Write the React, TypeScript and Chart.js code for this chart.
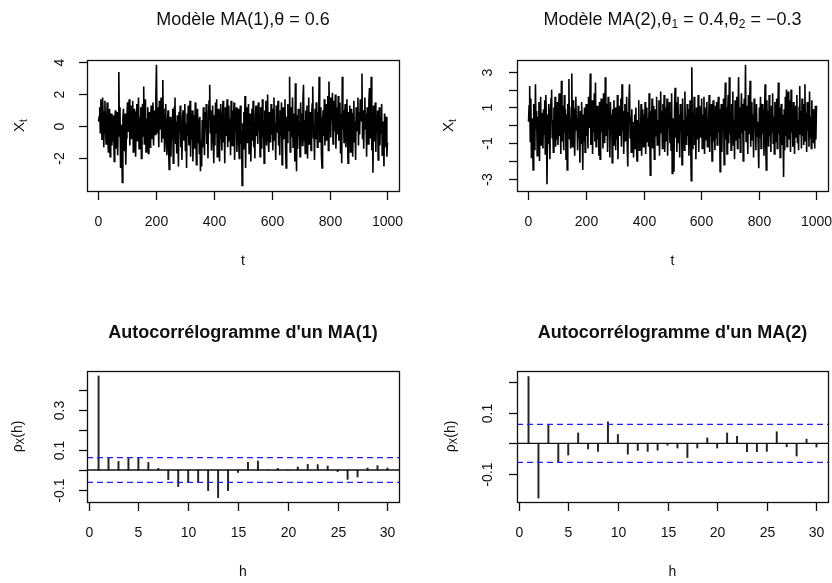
import React, { useEffect, useRef } from "react";
import { Chart, registerables } from "chart.js";

Chart.register(...registerables);

const W = 832;
const H = 583;
const FONT_FAMILY = '"Liberation Sans", Arial, Helvetica, sans-serif';

// ---- Simulated MA(1) series, theta = 0.6 (one value per 2 time steps) ----
const ma1Series = [
  0.3, 0.6, 1.2, -0.4, 1.7, 0.2, -0.8, 1.8, 0.5, -1.3, 0.9, 1.6, -0.2, -1.1, 0.4, 1.5, -0.7, -1.6, 0.2, 1.1, -1.9, -0.3, 0.8, -1.2, 0.6,
  -0.9, 0.7, -2.2, 0.3, 1.0, -1.4, -0.2, 0.9, -1.8, 0.4, 3.4, -0.6, 1.2, -2.6, 0.1, -1.0, -3.5, 0.5, 1.1, -1.5, -0.4, 0.8, -2.4, -0.7, 0.6,
  1.5, -0.3, 0.9, 1.7, -1.2, 0.4, 1.3, -0.8, 0.2, 1.6, -1.6, 0.7, 1.1, -0.5, -1.9, 0.9, 1.4, -0.9, 0.3, 1.8, -1.4, 0.6, -0.2, 1.2, -2.0,
  0.8, 1.4, -0.6, 2.5, -1.1, 0.3, 1.7, -1.6, 0.5, -0.9, 1.2, -1.7, -0.2, 0.9, -1.3, 0.6, 1.3, -0.8, 0.2, 1.5, -1.2, 0.4, 1.0, -0.5, 1.9,
  3.85, -0.4, 1.2, 0.6, -1.3, 1.6, -0.2, 0.9, 1.8, -1.0, 0.3, 2.9, -0.7, 1.1, -1.6, 0.5, 1.4, -0.9, -1.8, 0.2, 1.0, -1.4, -2.7, -0.3, 0.6,
  -1.9, 0.4, -0.8, 1.1, -2.3, -0.2, 1.2, 1.8, -1.1, 0.3, -1.7, 0.7, -0.5, -2.5, 0.9, -0.4, 1.3, -1.3, 0.2, -2.1, 0.6, 1.0, -0.9, -0.1, 1.4,
  -1.5, 0.2, -2.6, 0.8, -0.6, 1.3, -1.2, -0.3, 1.6, -1.9, 0.4, -0.8, 1.0, -2.2, -0.1, 0.7, -1.4, 1.5, -0.5, -2.4, 0.3, 1.1, -1.0, 0.5, -1.7,
  0.6, -2.8, -0.9, -2.5, 0.4, -1.3, 1.2, -0.6, -1.8, 0.9, -0.2, 1.4, -1.1, 0.3, -2.0, 0.8, 1.6, 2.6, -0.4, 1.0, -1.5, 0.2, 1.3, -0.7, -2.3,
  0.7, -1.2, 1.5, -0.4, 1.7, -1.9, 0.3, 1.1, -0.8, -2.2, 0.9, 1.4, -0.3, -1.5, 0.6, 1.6, -1.0, 0.2, -2.3, 1.2, 0.4, -0.6, 1.7, -1.3, 0.1,
  1.3, -0.9, 0.5, -1.8, 1.6, 0.2, -1.2, 1.0, -0.4, 1.5, -2.1, 0.7, -0.2, 1.2, -1.6, 0.4, 1.1, -0.8, -2.0, 0.6, 1.3, -1.1, -0.3, -3.7, 0.2,
  -1.4, 0.9, -0.5, 1.9, -2.6, 0.3, 1.2, -1.0, -0.2, 1.4, -1.7, 0.5, 0.8, -2.2, -0.4, 1.1, -0.9, 1.6, -1.3, 0.2, -2.0, 0.7, 1.3, -0.6, 0.4,
  -1.1, 1.5, -0.3, 0.8, -1.9, 1.2, 0.1, -1.4, 1.7, -0.7, 0.4, -2.3, 1.0, -0.2, 1.6, -1.2, 0.6, 2.0, -0.8, -1.6, 0.9, 0.3, -1.0, 1.4, -0.5,
  1.1, -1.5, 0.5, 1.8, -0.9, 0.2, -2.1, 1.3, -0.4, 0.9, 1.6, -1.2, 0.3, -1.8, 1.0, -0.6, 1.5, -2.4, 0.4, 1.2, -0.8, -0.1, 1.7, -1.3, -2.6,
  0.6, -1.0, 1.4, -0.3, 0.9, 3.1, -1.6, 0.2, 1.2, -0.7, 1.8, -1.3, -0.2, 0.8, -2.2, 2.7, -0.5, -2.8, 0.7, -1.4, 1.1, -0.6, 0.3, -1.9, 1.5,
  -0.4, 0.8, -1.2, 1.6, 2.6, -0.9, 0.4, -1.7, 1.0, -0.3, 1.3, -2.0, 0.5, 1.8, -1.1, -0.2, 0.9, -1.5, 0.6, 1.4, 2.5, -0.7, 0.1, -2.1, 1.1,
  -0.8, 1.5, 0.2, -1.3, 0.9, -0.4, 3.1, -1.0, 0.6, 1.2, -1.8, -2.6, 0.4, 1.0, -0.6, 1.7, -1.2, 0.3, 1.4, -0.9, 0.8, 1.9, -1.5, 2.8, 0.5,
  1.8, -0.7, 1.3, 0.4, 2.1, -1.1, 0.9, 1.6, -0.3, 2.0, -1.4, 0.7, 1.2, -0.5, 1.9, -0.9, 0.3, 1.5, -1.7, 0.8, -2.3, 3.1, -0.2, 1.0, -1.0,
  0.6, 1.4, -1.3, 0.2, 1.7, -0.8, -2.3, 0.9, -0.4, 1.3, -1.6, 0.5, 1.1, -0.6, -1.9, 0.8, 1.6, -1.0, 0.3, -2.1, 1.2, -0.3, 0.7, 1.8, -1.2,
  0.9, -0.5, 1.7, 0.3, 1.3, 3.3, -0.8, 1.0, -1.4, 0.6, 1.8, -0.2, 0.8, -1.9, 1.2, 0.4, -1.1, 1.6, 2.4, -0.7, 0.5, 3.1, -1.5, 0.9, -2.9,
  1.3, -0.9, 0.4, 1.5, -1.6, 0.7, -0.3, 1.0, -2.1, 0.2, 1.2, -1.2, 0.6, -0.4, 1.4, -1.8, 0.3, -0.7, -2.5, 0.8, 0.5, -1.3, 0.6, -1.9, -1.0,
];

// ---- Simulated MA(2) series, theta1 = 0.4, theta2 = -0.3 ----
const ma2Series = [
  0.2, 1.1, 2.2, -0.9, 1.5, -1.8, 0.4, -0.6, -2.5, 1.2, 0.3, -1.4, 2.3, -0.2, 0.8, -1.7, 0.5, -0.9, 1.3, -2.0, 0.1, 1.6, -1.1, 0.7, -0.4,
  -1.3, 0.9, -0.5, 1.4, -1.6, 1.7, 0.2, -3.3, 0.6, -1.0, 1.2, -0.3, -1.9, 0.8, 1.5, 2.0, -0.7, 0.3, -1.5, 1.0, -0.2, 1.6, -1.2, 0.4, -0.8,
  1.3, -1.1, 0.5, 1.8, -0.6, 0.2, -1.6, 2.5, -0.9, 1.1, 0.3, -1.4, 1.7, -0.4, 0.9, -1.9, 0.6, -2.5, 1.2, -0.2, 2.6, -0.8, 0.4, -1.3, 1.0,
  2.9, -1.2, 0.7, 1.4, -0.5, -1.7, 0.9, 1.6, -0.3, 0.4, -1.4, 1.1, -0.7, 0.3, -2.1, 0.8, -1.0, 1.3, -0.2, -2.5, 0.6, -0.9, 1.0, -1.5, 0.3,
  1.2, -0.6, 0.4, -1.3, 1.6, -0.1, 0.9, 2.9, -1.1, 0.2, 1.4, -1.6, 0.6, -0.4, 1.8, -0.9, 2.4, -1.2, 0.5, 1.1, -0.8, 0.3, -1.7, 1.3, -1.9,
  0.7, 1.5, -0.4, 0.9, -1.3, 1.8, 0.1, -1.0, 2.7, -0.6, 1.2, 0.4, -1.5, 1.6, -0.2, 0.8, -1.8, 1.3, -0.5, 0.6, -2.1, 0.9, -1.1, 1.4, -0.3,
  1.0, -1.4, 0.3, -0.8, 1.7, -1.9, 0.5, 1.1, -0.6, 0.2, 1.5, -1.2, 2.3, -0.3, 0.8, -1.6, 0.4, 1.2, -0.9, -0.1, 1.6, -1.0, -2.3, 0.7, 1.3,
  2.3, -0.7, 0.5, -1.5, 0.9, -1.1, 0.2, -1.8, -0.4, 0.6, -1.3, 1.0, -0.9, -2.0, 0.3, -0.6, 1.4, -1.4, 0.1, -0.8, 1.2, -1.7, 0.4, 0.9, -1.2,
  0.6, -0.5, 1.3, -1.6, 0.2, 1.0, -0.9, 0.4, -1.2, 1.8, -0.3, -2.8, 0.8, -0.7, 1.5, -1.3, 0.5, 1.1, -1.9, 0.2, 0.9, -0.6, 1.6, -1.1, 0.3,
  -0.8, 1.4, -1.7, 0.6, 1.9, -0.4, 0.8, -1.3, 1.2, -0.2, 1.7, -1.5, 0.3, 1.0, -0.9, 1.5, -1.7, 0.5, -0.1, 1.3, -1.0, 0.7, -1.4, 1.8, -2.7,
  0.4, -1.2, -2.6, 0.9, 2.1, -0.7, 1.3, -1.5, 0.2, 1.6, -1.0, 0.6, -1.8, 1.2, -0.3, 0.8, -2.2, 1.5, -0.5, 0.3, -1.4, 1.9, -0.8, 0.5, -1.1,
  1.2, -0.6, 0.9, -1.7, 0.3, 1.4, -0.9, -3.1, 3.25, -1.3, 0.7, -0.4, 1.6, -1.1, 0.2, -1.9, 1.0, 0.5, -0.8, 1.7, -1.5, 0.4, 1.1, -0.7, -0.2,
  1.5, -1.3, 0.6, -0.5, 1.6, -1.6, 0.3, 1.0, -0.8, 1.3, -1.2, 0.4, -0.2, 1.7, -1.5, 0.8, -0.6, 1.2, -2.0, 0.5, 1.4, -0.9, 0.2, -1.4, 1.1,
  -0.7, 1.3, -1.1, 0.6, 1.6, -0.4, 0.9, -2.6, 0.3, 1.2, -1.5, 0.7, -0.3, 1.5, -2.2, 0.4, 2.4, -0.8, 1.0, -1.6, 0.5, 1.7, -1.0, 2.7, -0.5,
  0.8, -1.4, 1.2, -0.6, 1.9, -1.1, 0.3, -1.9, 1.4, 0.5, -0.8, 1.6, -1.3, 0.2, 2.7, -0.7, 1.0, -1.5, 0.6, 1.8, -0.4, 1.2, -2.0, 0.9, 1.5,
  -0.3, 3.4, -0.9, 1.1, 0.4, -1.6, 1.7, -0.5, 0.9, 2.5, -1.2, 0.3, 1.3, -0.8, 0.6, -1.8, 1.5, -0.2, 0.8, -1.4, 1.2, -0.6, 0.2, -1.1, -2.4,
  1.0, -0.7, 1.6, -1.3, 0.4, 1.2, -0.5, 0.9, -1.7, 0.6, 2.3, -0.9, -2.5, 1.4, -0.2, 0.8, -1.2, 1.7, -0.6, 0.3, -1.5, 1.1, -0.4, 1.8, -1.0,
  0.5, -1.6, 1.3, 0.2, -0.9, 1.5, -1.3, 0.7, 2.4, -0.5, 1.0, -1.8, 0.4, 1.2, -1.1, 0.6, -0.3, -2.9, 0.9, -1.4, 1.6, -0.6, 2.0, -1.2, 0.8,
  1.9, -0.8, 0.5, 1.4, -1.5, 2.0, -0.4, 0.9, -1.2, 1.3, 0.2, -1.6, 1.1, -0.7, 0.6, 1.7, -1.0, 0.3, -1.4, 1.0, 2.2, -0.5, 0.8, -1.3, 1.5,
  -0.6, 1.2, -1.1, 0.4, 2.3, -0.9, 0.7, -1.5, 1.3, -0.3, 0.8, -1.2, 1.9, -0.7, 0.5, -1.3, 1.4, -0.4, 0.9, -1.0, 0.6, -1.3, 1.1, -0.8, 1.1,
];

// ---- Sample autocorrelations ----
const lags = [1, 2, 3, 4, 5, 6, 7, 8, 9, 10, 11, 12, 13, 14, 15, 16, 17, 18, 19, 20, 21, 22, 23, 24, 25, 26, 27, 28, 29, 30];
const acfMA1 = [
  0.47, 0.058, 0.043, 0.058, 0.058, 0.038, 0.008, -0.048, -0.083, -0.063,
  -0.063, -0.103, -0.138, -0.103, -0.012, 0.038, 0.045, 0.001, 0.008, -0.001,
  0.015, 0.028, 0.027, 0.02, -0.008, -0.047, -0.035, 0.01, 0.022, 0.01,
];
const acfMA2 = [
  0.218, -0.178, 0.059, -0.06, -0.038, 0.034, -0.018, -0.026, 0.07, 0.029,
  -0.035, -0.023, -0.026, -0.022, -0.006, -0.015, -0.046, -0.015, 0.018, -0.015,
  0.034, 0.023, -0.027, -0.027, -0.026, 0.038, -0.011, -0.041, 0.014, -0.012,
];
const ciBound = 0.062;

// ---- Axis ticks ----
const timeTicks = [0, 200, 400, 600, 800, 1000];
const timeTickLabels = ["0", "200", "400", "600", "800", "1000"];
const lagTicks = [0, 5, 10, 15, 20, 25, 30];
const lagTickLabels = ["0", "5", "10", "15", "20", "25", "30"];
const ts1YTicks = [-2, 0, 2, 4];
const ts1YTickLabels = ["-2", "0", "2", "4"];
const ts2YTicks = [-3, -2, -1, 0, 1, 2, 3];
const ts2YTickLabels = ["-3", "", "-1", "", "1", "", "3"];
const acf1YTicks = [-0.1, 0, 0.1, 0.2, 0.3, 0.4];
const acf1YTickLabels = ["-0.1", "", "0.1", "", "0.3", ""];
const acf2YTicks = [-0.1, 0, 0.1, 0.2];
const acf2YTickLabels = ["-0.1", "", "0.1", ""];

type Seg = { text: string; size: number; bold?: boolean; dy?: number };

interface Deco {
  title: Seg[];
  titleY: number;
  xTicks: number[];
  xTickLabels: string[];
  xTickLabelY: number;
  yTicks: number[];
  yTickLabels: string[];
  yTickLabelX: number;
  xLabel: Seg[];
  xLabelY: number;
  yLabel: Seg[];
  yLabelX: number;
}

const TICK = 14;
const TEXT_COLOR = "#111";
const segFont = (s: Seg) => `${s.bold ? "bold " : ""}${s.size}px ${FONT_FAMILY}`;

function drawSegs(ctx: CanvasRenderingContext2D, segs: Seg[], cx: number, cy: number) {
  let total = 0;
  const widths = segs.map((s) => {
    ctx.font = segFont(s);
    const w = ctx.measureText(s.text).width;
    total += w;
    return w;
  });
  let x = cx - total / 2;
  ctx.textAlign = "left";
  ctx.textBaseline = "middle";
  segs.forEach((s, i) => {
    ctx.font = segFont(s);
    ctx.fillText(s.text, x, cy + (s.dy || 0));
    x += widths[i];
  });
}

function rPlugin(d: Deco) {
  return {
    id: "rStyleAxes",
    afterDraw(chart: any) {
      const { ctx, chartArea: ca, scales } = chart;
      const xs = scales.x;
      const ys = scales.y;
      ctx.save();
      ctx.strokeStyle = "#111";
      ctx.fillStyle = TEXT_COLOR;
      ctx.lineWidth = 1.3;
      ctx.setLineDash([]);
      ctx.strokeRect(ca.left + 0.5, ca.top + 0.5, ca.right - ca.left, ca.bottom - ca.top);
      // x ticks
      d.xTicks.forEach((v, i) => {
        const px = Math.round(xs.getPixelForValue(v)) + 0.5;
        ctx.beginPath();
        ctx.moveTo(px, ca.bottom + 0.5);
        ctx.lineTo(px, ca.bottom + 9);
        ctx.stroke();
        if (d.xTickLabels[i]) drawSegs(ctx, [{ text: d.xTickLabels[i], size: TICK }], px, d.xTickLabelY);
      });
      // y ticks (labels parallel to the axis, as in R)
      d.yTicks.forEach((v, i) => {
        const py = Math.round(ys.getPixelForValue(v)) + 0.5;
        ctx.beginPath();
        ctx.moveTo(ca.left + 0.5, py);
        ctx.lineTo(ca.left - 8, py);
        ctx.stroke();
        if (d.yTickLabels[i]) {
          ctx.save();
          ctx.translate(d.yTickLabelX, py);
          ctx.rotate(-Math.PI / 2);
          drawSegs(ctx, [{ text: d.yTickLabels[i], size: TICK }], 0, 0);
          ctx.restore();
        }
      });
      const cx = (ca.left + ca.right) / 2;
      const cy = (ca.top + ca.bottom) / 2;
      drawSegs(ctx, d.title, cx, d.titleY);
      drawSegs(ctx, d.xLabel, cx, d.xLabelY);
      ctx.save();
      ctx.translate(d.yLabelX, cy);
      ctx.rotate(-Math.PI / 2);
      drawSegs(ctx, d.yLabel, 0, 0);
      ctx.restore();
      ctx.restore();
    },
  };
}

type Box = { left: number; top: number; right: number; bottom: number };

function padding(b: Box) {
  return { left: b.left, top: b.top, right: W - b.right, bottom: H - b.bottom };
}

const baseOptions = (b: Box, xMin: number, xMax: number, yMin: number, yMax: number) => ({
  responsive: false,
  maintainAspectRatio: false,
  animation: false as const,
  devicePixelRatio: 1,
  layout: { padding: padding(b) },
  plugins: { legend: { display: false }, tooltip: { enabled: false }, title: { display: false } },
  events: [] as any[],
  scales: {
    x: { type: "linear" as const, display: false, min: xMin, max: xMax, offset: false },
    y: { type: "linear" as const, display: false, min: yMin, max: yMax },
  },
});

function tsConfig(series: number[], b: Box, yMin: number, yMax: number, deco: Deco) {
  const n = series.length;
  const pts = series.map((v, i) => ({ x: 1 + (i * 999) / (n - 1), y: v }));
  return {
    type: "line" as const,
    data: {
      datasets: [
        {
          data: pts,
          borderColor: "#000",
          borderWidth: 1.6,
          pointRadius: 0,
          tension: 0,
          fill: false,
        },
      ],
    },
    options: baseOptions(b, -39, 1040, yMin, yMax),
    plugins: [rPlugin(deco)],
  };
}

function acfConfig(values: number[], b: Box, yMin: number, yMax: number, deco: Deco) {
  const xMin = -0.16;
  const xMax = 31.16;
  const hline = (y: number, color: string, dash: number[], width: number) => ({
    type: "line" as const,
    data: [
      { x: xMin, y },
      { x: xMax, y },
    ],
    borderColor: color,
    borderWidth: width,
    borderDash: dash,
    pointRadius: 0,
    fill: false,
    order: 0,
  });
  return {
    type: "bar" as const,
    data: {
      datasets: [
        {
          type: "bar" as const,
          data: lags.map((l, i) => ({ x: l, y: values[i] })),
          backgroundColor: "#222",
          borderWidth: 0,
          barThickness: 1.3,
          order: 1,
        },
        hline(0, "#111", [], 1.4),
        hline(ciBound, "#2020ff", [6, 4], 1.4),
        hline(-ciBound, "#2020ff", [6, 4], 1.4),
      ],
    },
    options: baseOptions(b, xMin, xMax, yMin, yMax),
    plugins: [rPlugin(deco)],
  };
}

const boxTL: Box = { left: 87, top: 60, right: 399, bottom: 191 };
const boxTR: Box = { left: 517, top: 60, right: 828, bottom: 191 };
const boxBL: Box = { left: 87, top: 371, right: 399, bottom: 502 };
const boxBR: Box = { left: 517, top: 371, right: 828, bottom: 502 };

const TITLE = 18;
const SUB = 12;

const configs = [
  () =>
    tsConfig(ma1Series, boxTL, -4.04, 4.15, {
      title: [
        { text: "Modèle MA(1),", size: TITLE },
        { text: "θ", size: TITLE },
        { text: " = 0.6", size: TITLE },
      ],
      titleY: 20,
      xTicks: timeTicks,
      xTickLabels: timeTickLabels,
      xTickLabelY: 222,
      yTicks: ts1YTicks,
      yTickLabels: ts1YTickLabels,
      yTickLabelX: 60,
      xLabel: [{ text: "t", size: TICK }],
      xLabelY: 261,
      yLabel: [
        { text: "X", size: TICK + 1 },
        { text: "t", size: 10, dy: 4 },
      ],
      yLabelX: 20,
    }),
  () =>
    tsConfig(ma2Series, boxTR, -3.68, 3.66, {
      title: [
        { text: "Modèle MA(2),", size: TITLE },
        { text: "θ", size: TITLE },
        { text: "1", size: SUB, dy: 5 },
        { text: " = 0.4,", size: TITLE },
        { text: "θ", size: TITLE },
        { text: "2", size: SUB, dy: 5 },
        { text: " = \u22120.3", size: TITLE },
      ],
      titleY: 20,
      xTicks: timeTicks,
      xTickLabels: timeTickLabels,
      xTickLabelY: 222,
      yTicks: ts2YTicks,
      yTickLabels: ts2YTickLabels,
      yTickLabelX: 488,
      xLabel: [{ text: "t", size: TICK }],
      xLabelY: 261,
      yLabel: [
        { text: "X", size: TICK + 1 },
        { text: "t", size: 10, dy: 4 },
      ],
      yLabelX: 449,
    }),
  () =>
    acfConfig(acfMA1, boxBL, -0.16, 0.495, {
      title: [{ text: "Autocorrélogramme d'un MA(1)", size: TITLE, bold: true }],
      titleY: 333,
      xTicks: lagTicks,
      xTickLabels: lagTickLabels,
      xTickLabelY: 533,
      yTicks: acf1YTicks,
      yTickLabels: acf1YTickLabels,
      yTickLabelX: 60,
      xLabel: [{ text: "h", size: TICK }],
      xLabelY: 572,
      yLabel: [
        { text: "ρ", size: TICK },
        { text: "X", size: 10, dy: 3 },
        { text: "(h)", size: TICK },
      ],
      yLabelX: 18,
    }),
  () =>
    acfConfig(acfMA2, boxBR, -0.191, 0.236, {
      title: [{ text: "Autocorrélogramme d'un MA(2)", size: TITLE, bold: true }],
      titleY: 333,
      xTicks: lagTicks,
      xTickLabels: lagTickLabels,
      xTickLabelY: 533,
      yTicks: acf2YTicks,
      yTickLabels: acf2YTickLabels,
      yTickLabelX: 488,
      xLabel: [{ text: "h", size: TICK }],
      xLabelY: 572,
      yLabel: [
        { text: "ρ", size: TICK },
        { text: "X", size: 10, dy: 3 },
        { text: "(h)", size: TICK },
      ],
      yLabelX: 451,
    }),
];

function Panel({ make }: { make: () => any }) {
  const ref = useRef<HTMLCanvasElement>(null);
  useEffect(() => {
    if (!ref.current) return;
    const chart = new Chart(ref.current, make());
    return () => chart.destroy();
  }, [make]);
  return (
    <canvas
      ref={ref}
      width={W}
      height={H}
      style={{ position: "absolute", left: 0, top: 0, width: W, height: H }}
    />
  );
}

export default function App() {
  return (
    <div style={{ position: "absolute", left: 0, top: 0, width: W, height: H, background: "#fff", overflow: "hidden" }}>
      {configs.map((make, i) => (
        <Panel key={i} make={make} />
      ))}
    </div>
  );
}
